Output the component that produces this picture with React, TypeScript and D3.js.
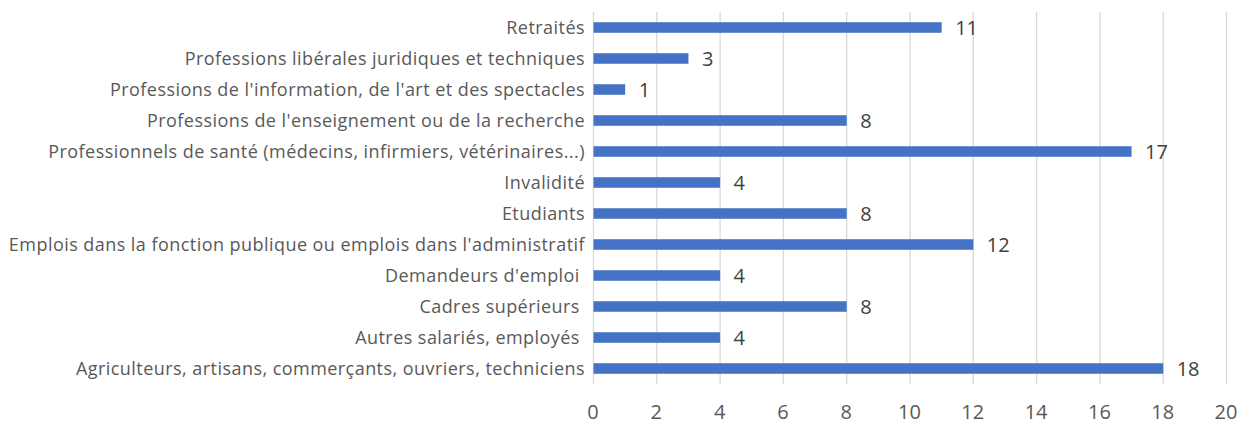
import * as d3 from "d3";
import { useEffect, useRef } from "react";

const categories = [
  "Retraités",
  "Professions libérales juridiques et techniques",
  "Professions de l'information, de l'art et des spectacles",
  "Professions de l'enseignement ou de la recherche",
  "Professionnels de santé (médecins, infirmiers, vétérinaires...)",
  "Invalidité",
  "Etudiants",
  "Emplois dans la fonction publique ou emplois dans l'administratif",
  "Demandeurs d'emploi ",
  "Cadres supérieurs ",
  "Autres salariés, employés ",
  "Agriculteurs, artisans, commerçants, ouvriers, techniciens",
];
const values = [11, 3, 1, 8, 17, 4, 8, 12, 4, 8, 4, 18];
const xTicks = [0, 2, 4, 6, 8, 10, 12, 14, 16, 18, 20];

const WIDTH = 1237;
const HEIGHT = 425;
const MARGIN = { top: 12, right: 11, bottom: 41, left: 593 };
const FONT = "'Open Sans', sans-serif";

export default function App() {
  const svgRef = useRef<SVGSVGElement | null>(null);

  useEffect(() => {
    if (!svgRef.current) return;
    const svg = d3.select(svgRef.current);
    svg.selectAll("*").remove();

    const innerWidth = WIDTH - MARGIN.left - MARGIN.right;
    const innerHeight = HEIGHT - MARGIN.top - MARGIN.bottom;

    const x = d3.scaleLinear().domain([0, 20]).range([0, innerWidth]);
    const y = d3
      .scaleBand<string>()
      .domain(categories)
      .range([0, innerHeight])
      .paddingInner(0.66)
      .paddingOuter(0.33);

    const root = svg
      .append("g")
      .attr("transform", `translate(${MARGIN.left},${MARGIN.top})`);

    // vertical grid
    root
      .append("g")
      .selectAll("line")
      .data(xTicks)
      .join("line")
      .attr("x1", (d) => x(d) + 0.5)
      .attr("x2", (d) => x(d) + 0.5)
      .attr("y1", 0)
      .attr("y2", innerHeight)
      .attr("stroke", "#d9d9d9")
      .attr("stroke-width", 1.3);

    // x tick labels
    root
      .append("g")
      .selectAll("text")
      .data(xTicks)
      .join("text")
      .attr("x", (d) => x(d))
      .attr("y", innerHeight + 35)
      .attr("text-anchor", "middle")
      .attr("font-size", 20)
      .attr("fill", "#595959")
      .text((d) => d);

    // category labels
    root
      .append("g")
      .selectAll("text")
      .data(categories)
      .join("text")
      .attr("x", -8)
      .attr("y", (d) => (y(d) ?? 0) + y.bandwidth() / 2)
      .attr("dy", "0.35em")
      .attr("text-anchor", "end")
      .attr("font-size", 18)
      .attr("letter-spacing", 0.45)
      .attr("fill", "#595959")
      .style("white-space", "pre")
      .text((d) => d);

    const bars = root
      .append("g")
      .selectAll("g")
      .data(categories.map((c, i) => ({ c, v: values[i] })))
      .join("g")
      .attr("transform", (d) => `translate(0,${y(d.c) ?? 0})`);

    bars
      .append("rect")
      .attr("x", 0.5)
      .attr("width", (d) => x(d.v))
      .attr("height", y.bandwidth())
      .attr("fill", "#4472c4");

    bars
      .append("text")
      .attr("x", (d) => x(d.v) + 14)
      .attr("y", y.bandwidth() / 2)
      .attr("dy", "0.36em")
      .attr("font-size", 20)
      .attr("fill", "#404040")
      .text((d) => d.v);
  }, []);

  return (
    <svg
      ref={svgRef}
      width={WIDTH}
      height={HEIGHT}
      style={{ position: "absolute", left: 0, top: 0, fontFamily: FONT, background: "#fff" }}
    />
  );
}
